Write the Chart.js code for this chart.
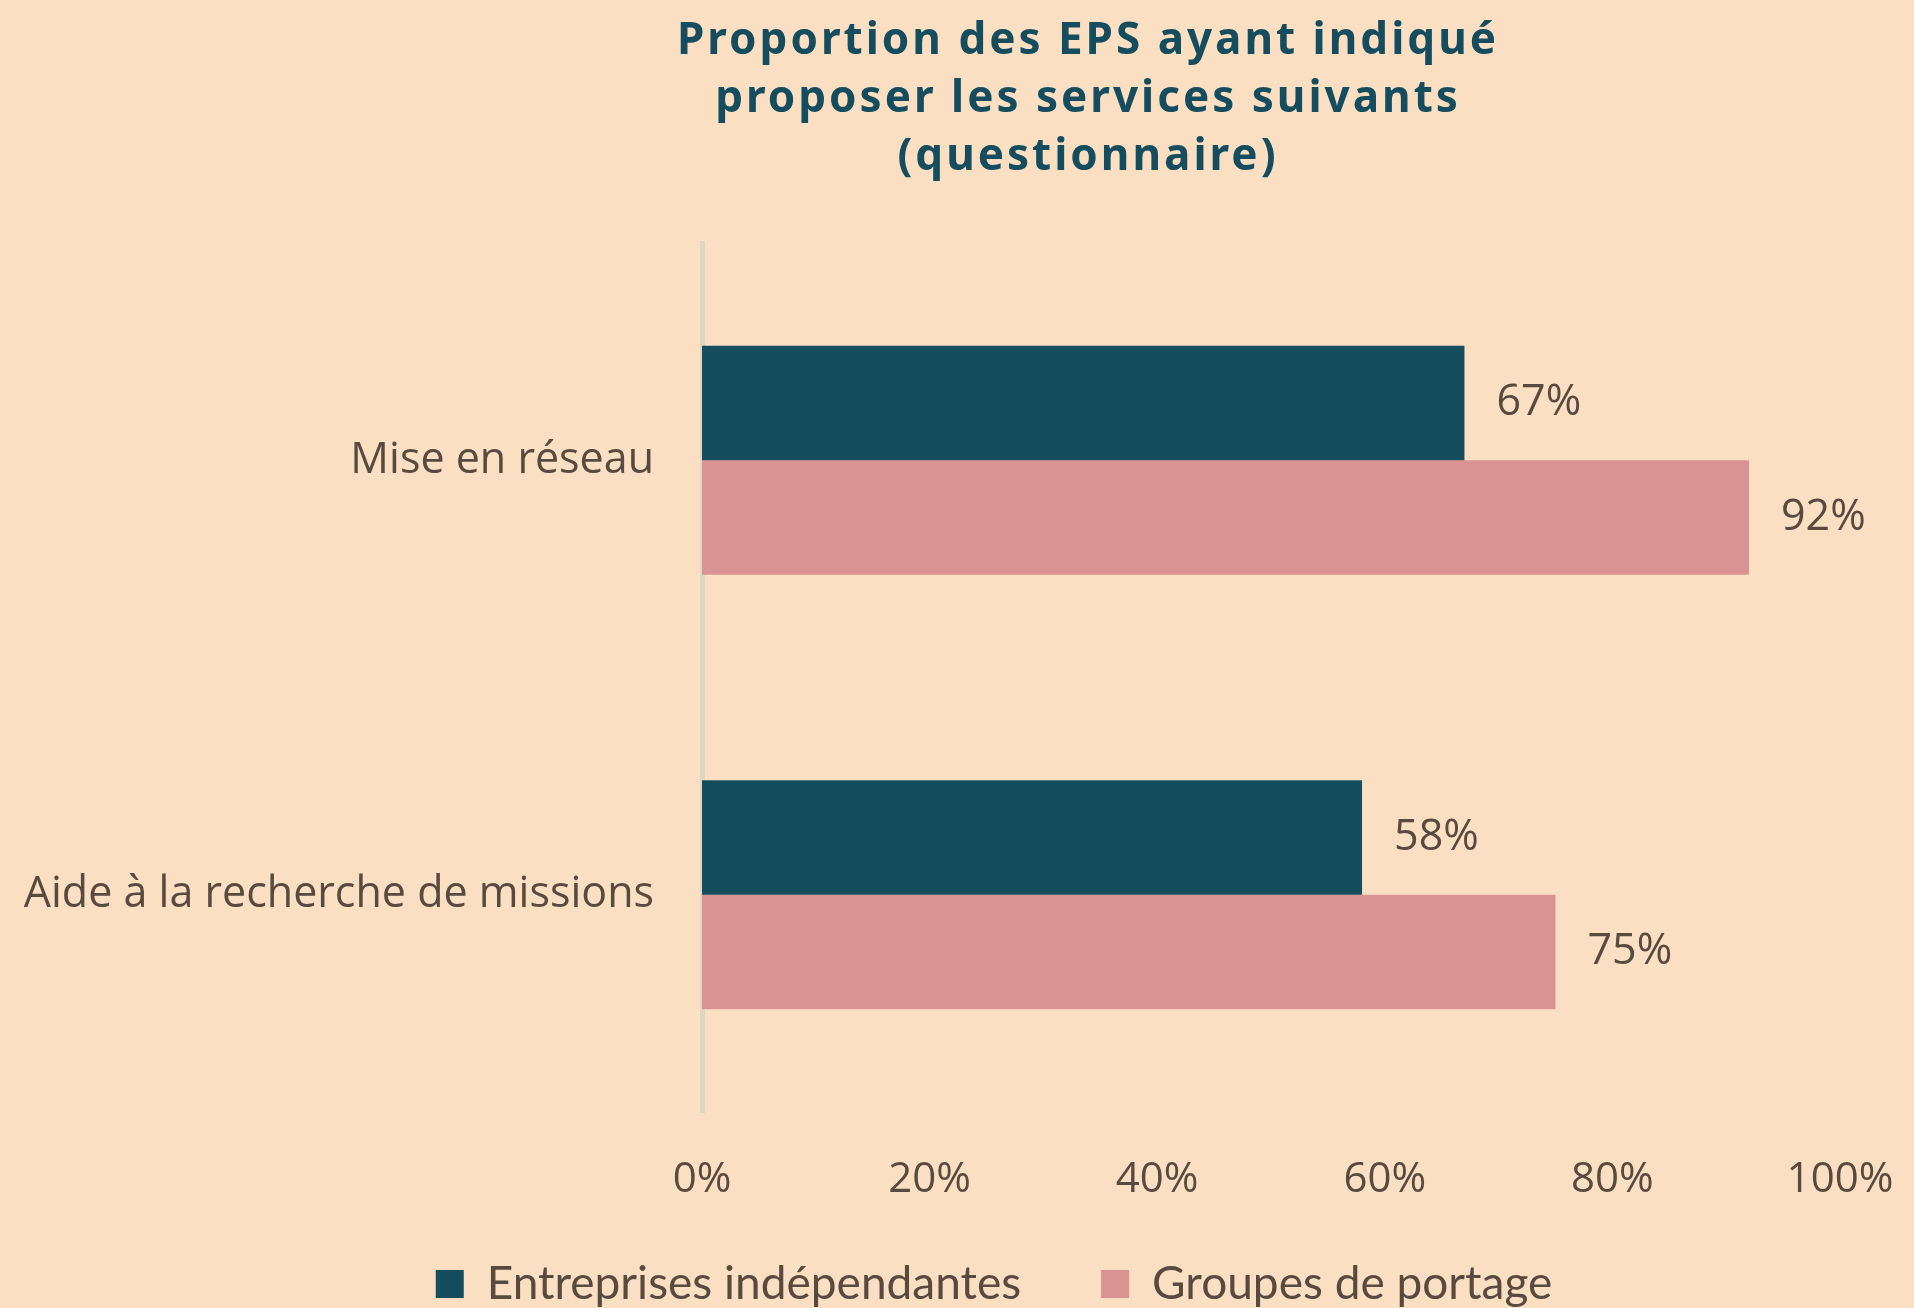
<!DOCTYPE html>
<html lang="fr">
<head>
  <meta charset="UTF-8">
  <title>Proportion des EPS ayant indiqué proposer les services suivants</title>
  <script src="https://cdn.jsdelivr.net/npm/chart.js"></script>
  <style>
    html, body { margin: 0; padding: 0; background: #FBDFC2; overflow: hidden; }
    #cadre { position: relative; width: 1914px; height: 1308px; }
    #titre {
      position: absolute; left: 588px; top: 8px; width: 1000px;
      text-align: center; color: #154D5E;
      font-family: "Noto Sans", sans-serif; font-weight: 700;
      font-size: 44px; line-height: 58px; letter-spacing: 3px;
    }
  </style>
</head>
<body>

<div id="cadre">
  <div id="titre">Proportion des EPS ayant indiqué<br>proposer les services suivants<br>(questionnaire)</div>
  <canvas id="graphique"></canvas>
</div>

<script>
// Données
const categories = ["Mise en réseau", "Aide à la recherche de missions"];
const entreprisesIndependantes = [67, 58];
const groupesPortage = [92, 75];
const ticksX = [0, 20, 40, 60, 80, 100];

const couleurTexte = '#594a40';
const police = '"Open Sans", "Liberation Sans", sans-serif';

// Étiquettes de valeur au bout des barres
const etiquettesValeurs = {
  id: 'etiquettesValeurs',
  afterDatasetsDraw(chart) {
    const ctx = chart.ctx;
    ctx.save();
    ctx.fillStyle = couleurTexte;
    ctx.font = '43px ' + police;
    ctx.textAlign = 'left';
    ctx.textBaseline = 'middle';
    chart.data.datasets.forEach((ds, i) => {
      chart.getDatasetMeta(i).data.forEach((barre, j) => {
        ctx.fillText(ds.data[j] + '%', barre.x + 32, barre.y);
      });
    });
    ctx.restore();
  }
};

// Légende : décalée vers la droite et remontée comme sur l'original
const placeLegende = {
  id: 'placeLegende',
  afterLayout(chart) {
    const l = chart.legend;
    l.left = 148;
    l.top = 1181;
    l.bottom = chart.height;
  }
};

const ctx = document.getElementById('graphique').getContext('2d');
new Chart(ctx, {
  type: 'bar',
  data: {
    labels: categories,
    datasets: [
      {
        label: 'Entreprises indépendantes',
        data: entreprisesIndependantes,
        backgroundColor: '#154D5E',
        barPercentage: 1,
        categoryPercentage: 0.527
      },
      {
        label: 'Groupes de portage',
        data: groupesPortage,
        backgroundColor: '#D99393',
        barPercentage: 1,
        categoryPercentage: 0.527
      }
    ]
  },
  options: {
    indexAxis: 'y',
    responsive: true,
    maintainAspectRatio: false,
    animation: false,
    layout: { padding: { top: 243, right: 74, left: 0, bottom: 0 } },
    scales: {
      x: {
        min: 0,
        max: 100,
        afterBuildTicks: axe => { axe.ticks = ticksX.map(v => ({ value: v })); },
        afterFit: axe => { axe.height = 96; axe.paddingRight = 50; },
        grid: { display: false, drawTicks: false },
        border: { display: false },
        ticks: {
          padding: 43,
          color: couleurTexte,
          font: { family: police, size: 42 },
          callback: v => v + '%'
        }
      },
      y: {
        afterFit: axe => { axe.width = 702; },
        grid: { display: false, drawTicks: false },
        border: { display: true, color: '#E0D6C6', width: 5 },
        ticks: {
          padding: 48,
          color: couleurTexte,
          font: { family: police, size: 43 }
        }
      }
    },
    plugins: {
      legend: {
        position: 'bottom',
        maxHeight: 100,
        labels: {
          boxWidth: 28,
          boxHeight: 28,
          padding: 80,
          color: couleurTexte,
          font: { family: 'Lato, "Liberation Sans", sans-serif', size: 46 }
        }
      },
      tooltip: { enabled: false }
    }
  },
  plugins: [etiquettesValeurs, placeLegende]
});
</script>

</body>
</html>
